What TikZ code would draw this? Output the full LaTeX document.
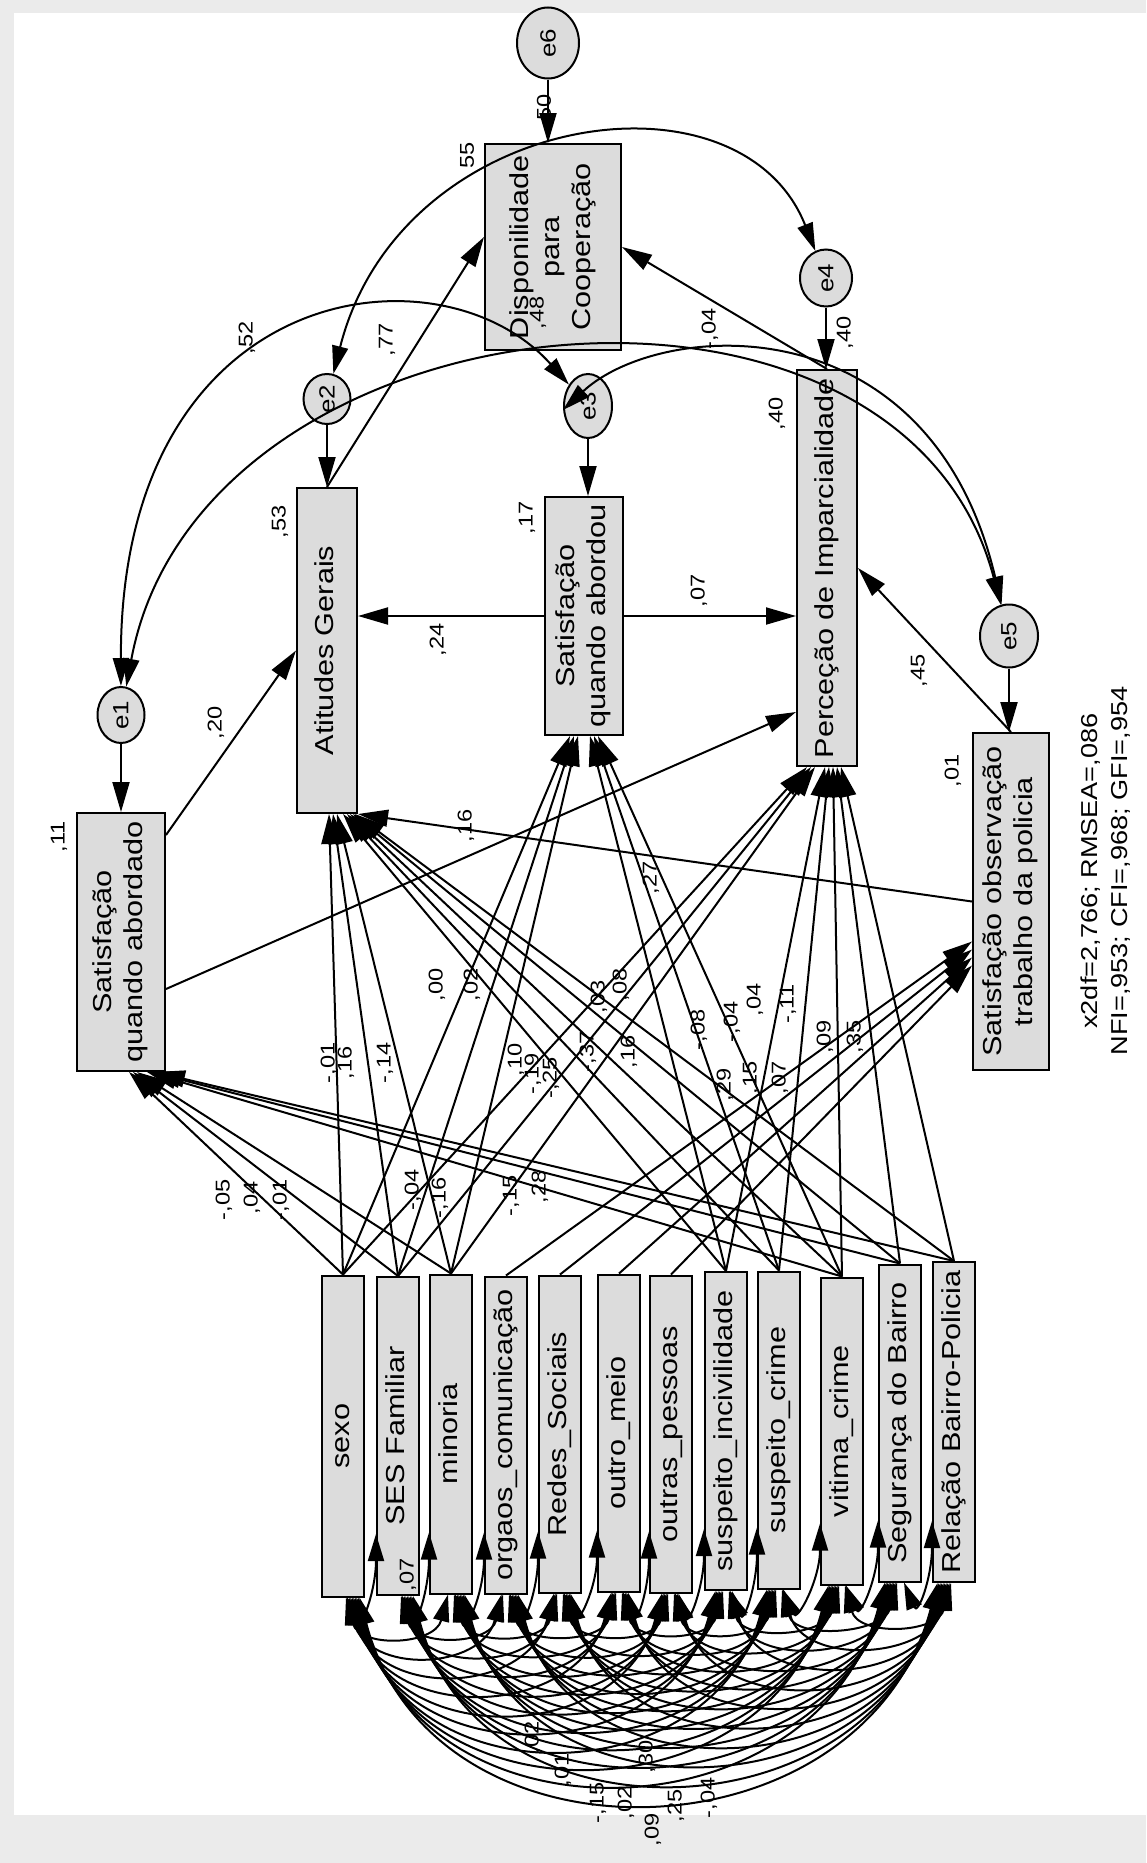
\documentclass[tikz,border=0pt]{standalone}
\usepackage{fontspec}
\setmainfont{Liberation Sans}
\usepackage{graphicx}
\usetikzlibrary{arrows.meta,shapes.geometric}

\definecolor{boxgray}{HTML}{DCDCDC}
\definecolor{framegray}{HTML}{EBEBEB}

% rotated, slightly stretched text as in the exported AMOS picture
\newcommand{\vlabel}[1]{\rotatebox{90}{\scalebox{1.18}[1]{\begin{tabular}{@{}c@{}}#1\end{tabular}}}}
\newcommand{\vnum}[1]{\rotatebox{90}{\scalebox{1.18}[1]{#1}}}
\newcommand{\decsep}{,}

\tikzset{
  obs/.style={draw, line width=2pt, fill=boxgray, inner sep=0pt, font=\fontsize{26}{31}\selectfont},
  err/.style={ellipse, draw, line width=2pt, fill=boxgray, inner sep=0pt, font=\fontsize{22}{26}\selectfont},
  reg/.style={line width=2pt, -{Triangle[length=30pt,width=17pt]}},
  cov/.style={line width=2pt, {Triangle[length=28pt,width=16pt]}-{Triangle[length=28pt,width=16pt]}},
  covx/.style={line width=2pt, {Triangle[length=27pt,width=16pt]}-{Triangle[length=27pt,width=16pt]}},
  coef/.style={font=\fontsize{20}{24}\selectfont, inner sep=0pt},
}

\begin{document}
\begin{tikzpicture}[x=1pt, y=1pt]
		% Frame
		\useasboundingbox (0,0) rectangle (1146,-1863);
		\fill[framegray] (0,0) rectangle (1146,-1863);
		\fill[white] (14,-13) rectangle (1146,-1815);
		
		% Endogenous variables
		\node[obs, minimum width=136pt, minimum height=206pt] (DIS) at (553,-247) {\vlabel{Disponilidade\\para\\Cooperação}};
		\node[obs, minimum width=60pt, minimum height=325pt] (ATG) at (327,-650.5) {\vlabel{Atitudes Gerais}};
		\node[obs, minimum width=78pt, minimum height=238pt] (SQB) at (584,-616) {\vlabel{Satisfação\\quando abordou}};
		\node[obs, minimum width=60pt, minimum height=396pt] (PIM) at (827,-568) {\vlabel{Perceção de Imparcialidade}};
		\node[obs, minimum width=76pt, minimum height=337pt] (SOB) at (1011,-901.5) {\vlabel{Satisfação observação\\trabalho da policia}};
		\node[obs, minimum width=88pt, minimum height=258pt] (SQA) at (121,-942) {\vlabel{Satisfação\\quando abordado}};
		
		% Errors
		\node[err, minimum width=62pt, minimum height=71pt] (e6) at (548,-43) {\vnum{e6}};
		\node[err, minimum width=52pt, minimum height=57pt] (e4) at (826,-278) {\vnum{e4}};
		\node[err, minimum width=47pt, minimum height=50pt] (e2) at (327,-399) {\vnum{e2}};
		\node[err, minimum width=48pt, minimum height=64pt] (e3) at (588,-406) {\vnum{e3}};
		\node[err, minimum width=58pt, minimum height=63pt] (e5) at (1009,-636) {\vnum{e5}};
		\node[err, minimum width=47pt, minimum height=56pt] (e1) at (121,-715) {\vnum{e1}};
		
		% Exogenous variables
		\foreach \n/\xx/\yy/\hh/\txt in {1/343/1436/321/sexo, 2/398/1436/318/SES Familiar, 3/451/1434/319/minoria,
				4/506/1435/317/orgaos\_comunicação, 5/560/1434/317/Redes\_Sociais, 6/619/1433/317/outro\_meio,
				7/671/1434/317/outras\_pessoas, 8/726/1431/318/suspeito\_incivilidade, 9/779/1430/317/suspeito\_crime,
				10/842/1431/307/vitima\_crime, 11/900/1423/317/Segurança do Bairro, 12/954/1422/320/Relação Bairro-Policia} {
			\node[obs, minimum width=42pt, minimum height=\hh pt] (exo\n) at (\xx,-\yy) {\vlabel{\txt}};
		}
		
		% Fit indices
		\node[font=\fontsize{23}{30}\selectfont] (fit) at (1106,-871) {\vlabel{x2df=2,766; RMSEA=,086\\NFI=,953; CFI=,968; GFI=,954}};
		
		% Error terms
		\draw[reg] (e6) -- (e6 |- DIS.north);
		\draw[reg] (e4) -- (e4 |- PIM.north);
		\draw[reg] (e2) -- (e2 |- ATG.north);
		\draw[reg] (e3) -- (e3 |- SQB.north);
		\draw[reg] (e5) -- (e5 |- SOB.north);
		\draw[reg] (e1) -- (e1 |- SQA.north);
		
		% Error covariances
		\draw[cov] (e2) .. controls (400,-110) and (740,-60) .. (e4);
		\draw[cov] (e1) .. controls (120,-280) and (440,-240) .. (e3);
		\draw[cov] (e1) .. controls (200,-290) and (900,-220) .. (e5);
		\draw[cov] ([yshift=-4pt]e3.west) .. controls (660,-320) and (930,-300) .. (e5);
		
		% Structural paths
		\draw[reg] (ATG.north) -- ([yshift=10pt]DIS.west);
		\draw[reg] (PIM.north) -- (DIS.east);
		\draw[reg] (SQB.west) -- (SQB.west -| ATG.east);
		\draw[reg] (SQB.east) -- (SQB.east -| PIM.west);
		\draw[reg] ([yshift=-23pt]SQA.north east) -- (ATG.west);
		\draw[reg] ([yshift=-47pt]SQA.east) -- ([yshift=-144pt]PIM.west);
		\draw[reg] (SOB.west) -- (ATG.south east);
		\draw[reg] (SOB.north) -- (PIM.east);
		
		% Predictors
		\foreach \s/\t/\d in {1/SQA/8, 2/SQA/12, 3/SQA/16, 10/SQA/26, 11/SQA/30, 12/SQA/34,
				1/ATG/2, 2/ATG/6, 3/ATG/10, 8/ATG/16, 9/ATG/20, 10/ATG/23, 11/ATG/26, 12/ATG/28,
				1/SQB/-14, 2/SQB/-10, 3/SQB/-6, 8/SQB/6, 9/SQB/10, 10/SQB/14,
				1/PIM/-20, 2/PIM/-16, 3/PIM/-12, 8/PIM/-2, 9/PIM/2, 10/PIM/6, 11/PIM/10, 12/PIM/14} {
			\draw[reg] (exo\s.north) -- ([xshift=\d pt]\t.south);
		}
		\foreach \s/\d in {4/-40, 5/-48, 6/-56, 7/-64} {
			\draw[reg] (exo\s.north) -- ([yshift=\d pt]SOB.west);
		}
		
		% Covariances between predictors
		\foreach \i in {1,...,11} {
			\pgfmathtruncatemacro{\k}{\i+1}
			\foreach \j in {\k,...,12} {
				\pgfmathsetmacro{\dep}{25.5*(\j-\i)}
				\pgfmathsetmacro{\cx}{6.7*(\j-\i)}
				\pgfmathsetmacro{\spr}{1.5*(\j-\i)}
				\ifnum\j=\k
					\draw[covx] ([xshift=4pt]exo\i.south) .. controls +(14,-34) and +(0,-56) .. ([yshift=62pt]exo\j.south west);
				\else
					\draw[covx] ([xshift=\spr pt]exo\i.south) .. controls +(\cx,-\dep) and +(-\cx,-\dep) .. ([xshift=-\spr pt]exo\j.south);
				\fi
			}
		}
		
		% Coefficients
		\foreach \xx/\yy/\txt [count=\c] in {544/107/50, 467/155/55, 247/338/\decsep52, 387/340/\decsep77, 538/313/\decsep48,
				710/329/-\decsep04, 845/333/\decsep40, 777/414/\decsep40, 280/522/\decsep53, 527/518/\decsep17,
				438/640/\decsep24, 699/591/\decsep07, 919/671/\decsep45, 216/723/\decsep20, 59/837/\decsep11,
				953/771/\decsep01, 466/826/\decsep16, 651/878/\decsep27,
				437/985/\decsep00, 472/985/\decsep02, 329/1063/-\decsep01, 346/1063/\decsep16, 385/1063/-\decsep14,
				516/1060/\decsep10, 533/1074/-\decsep19, 551/1078/-\decsep25, 599/997/\decsep03, 621/985/\decsep08,
				588/1052/-\decsep37, 629/1052/\decsep16, 699/1030/-\decsep08, 732/1022/-\decsep04, 755/1000/\decsep04,
				788/1004/-\decsep11, 825/1037/\decsep09, 855/1037/\decsep35, 725/1085/\decsep29, 751/1078/\decsep15,
				780/1078/\decsep07, 224/1200/-\decsep05, 252/1198/\decsep04, 281/1200/-\decsep01, 413/1190/-\decsep04,
				440/1198/-\decsep16, 511/1196/-\decsep15, 540/1187/\decsep28,
				408/1575/\decsep07, 533/1738/\decsep02, 563/1770/\decsep01, 647/1757/\decsep30,
				598/1803/-\decsep15, 626/1803/\decsep02, 653/1830/\decsep09, 676/1806/\decsep25, 709/1798/-\decsep04} {
			\node[coef] (coef\c) at (\xx,-\yy) {\vnum{\txt}};
		}
\end{tikzpicture}
\end{document}
